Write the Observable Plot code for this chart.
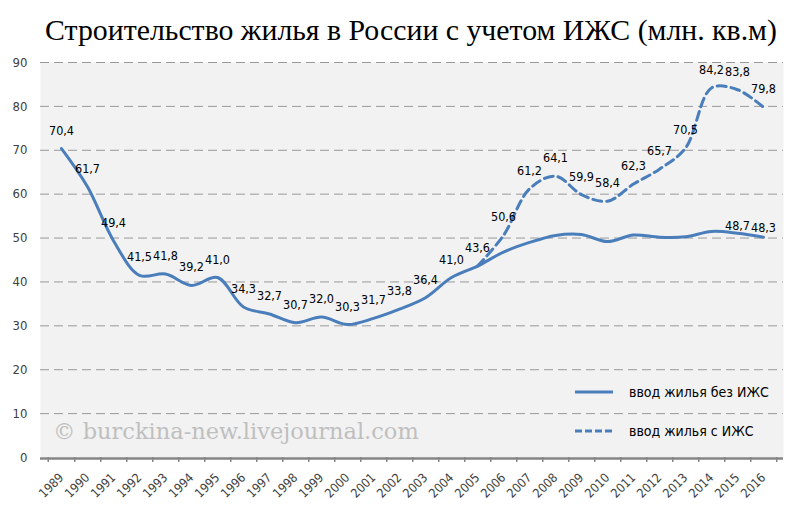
<!DOCTYPE html>
<html><head><meta charset="utf-8">
<script src="https://cdn.jsdelivr.net/npm/d3@7"></script>
<script src="https://cdn.jsdelivr.net/npm/@observablehq/plot@0.6"></script>
<style>
body{margin:0;background:#fff;}
#wrap{position:relative;width:800px;height:511px;overflow:hidden;}
#title{position:absolute;left:0;top:13px;width:822px;text-align:center;font-family:"Liberation Serif",serif;font-size:29.8px;color:#000;white-space:nowrap;}
#wm{position:absolute;left:53px;top:418px;font-family:"DejaVu Serif",serif;font-size:22.5px;color:#bfbfbf;white-space:nowrap;}
.leg{position:absolute;left:575px;font-family:"Liberation Sans Narrow","DejaVu Sans Condensed",sans-serif;font-size:14px;color:#000;white-space:nowrap;display:flex;align-items:center;}
.leg svg{margin-right:16px;}
#chart{position:absolute;left:0;top:0;}
</style></head><body>
<div id="wrap">
<div id="chart"></div>
<div id="title"></div>
<div id="wm">© burckina-new.livejournal.com</div>
<div class="leg" id="leg1" style="top:384px"></div>
<div class="leg" id="leg2" style="top:423px"></div>
</div>
<script>
const title = "Строительство жилья в России с учетом ИЖС (млн. кв.м)";
const seriesNames = ["ввод жилья без ИЖС", "ввод жилья с ИЖС"];
const years = [1989,1990,1991,1992,1993,1994,1995,1996,1997,1998,1999,2000,2001,2002,2003,2004,2005,2006,2007,2008,2009,2010,2011,2012,2013,2014,2015,2016];
const withoutIZhS = [70.4,61.7,49.4,41.5,41.8,39.2,41.0,34.3,32.7,30.7,32.0,30.3,31.7,33.8,36.4,41.0,43.6,46.8,49.0,50.6,50.8,49.2,50.7,50.2,50.3,51.5,51.1,50.2];
const withIZhS = [null,null,null,null,null,null,null,null,null,null,null,null,null,null,null,null,43.6,50.6,61.2,64.1,59.9,58.4,62.3,65.7,70.5,84.2,83.8,79.8];
const labelsWithout = [70.4,61.7,49.4,41.5,41.8,39.2,41.0,34.3,32.7,30.7,32.0,30.3,31.7,33.8,36.4,41.0,43.6,null,null,null,null,null,null,null,null,null,48.7,48.3];
const labelsWith = [null,null,null,null,null,null,null,null,null,null,null,null,null,null,null,null,null,50.6,61.2,64.1,59.9,58.4,62.3,65.7,70.5,84.2,83.8,79.8];
const yTicks = [0,10,20,30,40,50,60,70,80,90];

document.getElementById("title").textContent = title;
const fmt = v => d3.format(".1f")(v).replace(".", ",");
const solid = years.map((year, i) => ({year, value: withoutIZhS[i], label: labelsWithout[i]}));
const dashed = years.map((year, i) => ({year, value: withIZhS[i], label: labelsWith[i]})).filter(d => d.value != null);
const blue = "#4a7ebb";
const narrow = '"Liberation Sans Narrow","DejaVu Sans Condensed",sans-serif';
const W = 800, ML = 40, MR = 17;
const step = (W - ML - MR) / years.length;

const plot = Plot.plot({
  width: W, height: 511,
  marginTop: 62, marginBottom: 54, marginLeft: ML, marginRight: MR,
  style: {background: "transparent", fontFamily: narrow, fontSize: "12px", color: "#404040", overflow: "visible"},
  x: {type: "point", domain: years, padding: 0.5},
  y: {domain: [0, 90]},
  marks: [
    Plot.frame({fill: "#f2f2f2", stroke: null}),
    Plot.gridY(yTicks.slice(1), {stroke: "#999", strokeOpacity: 1, strokeDasharray: "9,5"}),
    Plot.axisY(yTicks, {tickSize: 0, tickPadding: 13, fontSize: 13, fill: "#404040", label: null}),
    Plot.axisX(years, {tickSize: 5, dx: step / 2, text: null, stroke: "#868686", strokeWidth: 1.5, label: null}),
    Plot.axisX([years[0]], {tickSize: 5, dx: -step / 2, text: null, stroke: "#868686", strokeWidth: 1.5, label: null}),
    Plot.axisX(years, {tickSize: 0, tickRotate: -45, tickPadding: 18, dx: 0, fontSize: 12.5, fill: "#404040", label: null, tickFormat: d => String(d)}),
    Plot.ruleY([0], {stroke: "#868686", strokeWidth: 2.5, dy: 1}),
    Plot.line(solid, {x: "year", y: "value", stroke: blue, strokeWidth: 3, curve: "catmull-rom"}),
    Plot.line(dashed, {x: "year", y: "value", stroke: blue, strokeWidth: 3, strokeDasharray: "9,5", curve: "catmull-rom"}),
    Plot.text(solid.filter(d => d.label != null), {x: "year", y: "label", text: d => fmt(d.label), dy: -18, fill: "#000", fontSize: 12.5}),
    Plot.text(dashed.filter(d => d.label != null), {x: "year", y: "label", text: d => fmt(d.label), dy: -18, fill: "#000", fontSize: 12.5})
  ]
});
document.getElementById("chart").appendChild(plot);

function legend(id, name, dash) {
  const el = document.getElementById(id);
  el.innerHTML = `<svg width="38" height="6"><line x1="0" x2="38" y1="3" y2="3" stroke="${blue}" stroke-width="3" ${dash ? 'stroke-dasharray="7,3"' : ''}/></svg><span>${name}</span>`;
}
legend("leg1", seriesNames[0], false);
legend("leg2", seriesNames[1], true);
</script>
</body></html>
